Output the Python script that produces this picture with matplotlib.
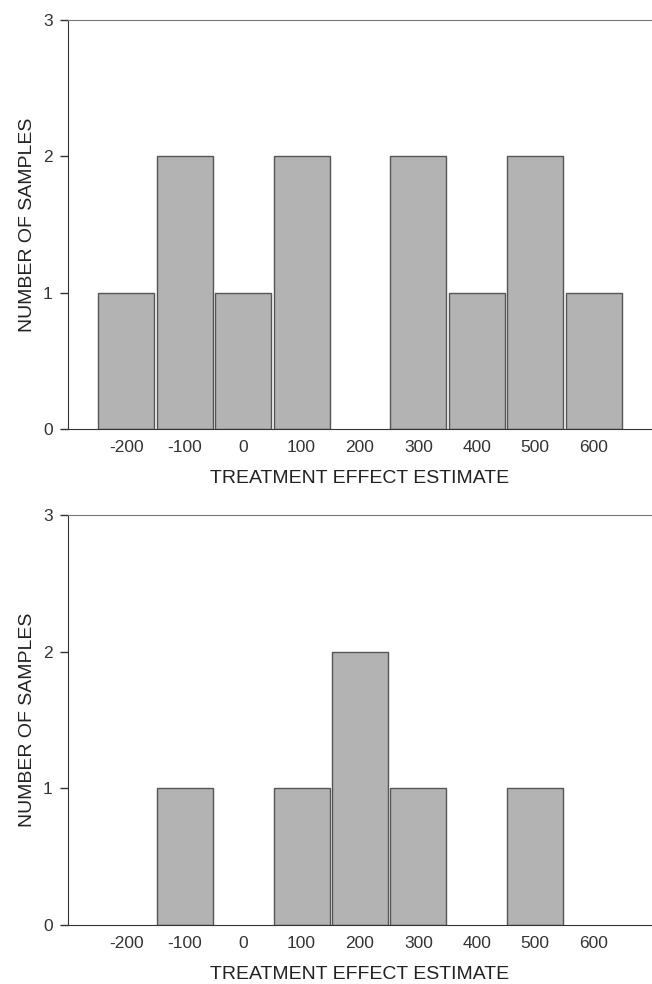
import matplotlib
matplotlib.use('Agg')
import matplotlib.pyplot as plt

# bins of the treatment effect estimate
bins = [-200, -100, 0, 100, 200, 300, 400, 500, 600]
counts_top = [1, 2, 1, 2, 0, 2, 1, 2, 1]
counts_bottom = [0, 1, 0, 1, 2, 1, 0, 1, 0]
yticks = [0, 1, 2, 3]

plt.rcParams['font.family'] = ['Liberation Sans', 'DejaVu Sans']

fig = plt.figure(figsize=(6.52, 9.84), dpi=100)
W, H = 652, 984

def make_panel(top_px, bottom_px, counts):
    ax = fig.add_axes([68 / W, 1 - bottom_px / H, 1 - 68 / W, (bottom_px - top_px) / H])
    # empty bins are not drawn at all
    xs = [b for b, c in zip(bins, counts) if c > 0]
    hs = [c for c in counts if c > 0]
    ax.bar(xs, hs, width=96, color='#b3b3b3', edgecolor='#555555', linewidth=1.0)
    ax.set_xlim(-300, 700)
    ax.set_ylim(0, 3)
    ax.set_xticks(bins)
    ax.set_xticklabels([str(b) for b in bins], fontsize=12.5, color='#333333')
    ax.set_yticks(yticks)
    ax.set_yticklabels([str(t) for t in yticks], fontsize=12.5, color='#333333')
    ax.tick_params(axis='x', length=0, pad=8)
    ax.tick_params(axis='y', length=6, width=1, color='#333333', pad=5)
    ax.spines['right'].set_visible(False)
    ax.spines['top'].set_color('#777777')
    ax.spines['left'].set_color('#333333')
    ax.spines['bottom'].set_color('#333333')
    ax.set_xlabel('TREATMENT EFFECT ESTIMATE', fontsize=14, color='#222222', labelpad=11)
    ax.set_ylabel('NUMBER OF SAMPLES', fontsize=14, color='#222222', labelpad=5)
    return ax

make_panel(20, 429, counts_top)
make_panel(515, 925, counts_bottom)

fig.savefig('out.png', dpi=100)
